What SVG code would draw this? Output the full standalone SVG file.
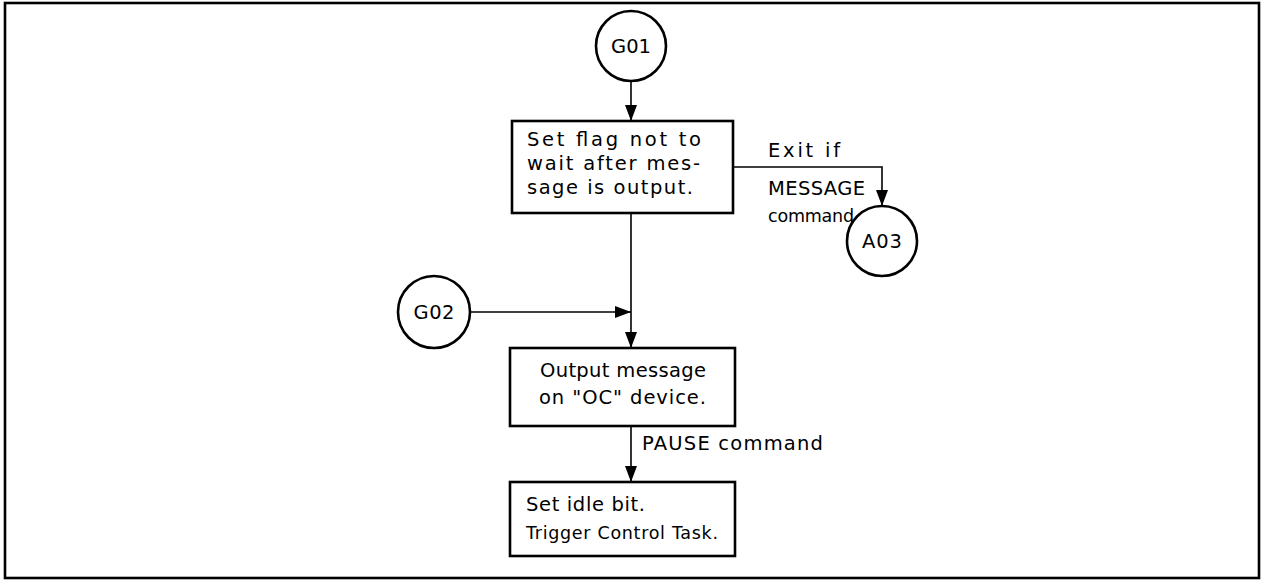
<svg xmlns="http://www.w3.org/2000/svg" width="1261" height="580" viewBox="0 0 1261 580">
<defs>
<marker id="ah" markerWidth="16" markerHeight="12" refX="16" refY="6" viewBox="0 0 16 12" markerUnits="userSpaceOnUse" orient="auto">
<path d="M0,0 L16,6 L0,12 Z" fill="#000"/>
</marker>
<style>
.box{fill:#fff;stroke:#000;stroke-width:2.6}
.circ{fill:#fff;stroke:#000;stroke-width:2.6}
.con{fill:none;stroke:#000;stroke-width:1.6}
text{font-family:"DejaVu Sans","Liberation Sans",sans-serif;font-size:19.5px;fill:#000}
.s{font-size:17.5px}
.c{text-anchor:middle}
</style>
</defs>
<rect x="0" y="0" width="1261" height="580" fill="#fff"/>
<rect x="5" y="3" width="1254" height="575" fill="none" stroke="#000" stroke-width="2.6"/>
<g id="connectors">
<line class="con" x1="631" y1="81" x2="631" y2="121" marker-end="url(#ah)"/>
<polyline class="con" points="733,167 882,167 882,206" marker-end="url(#ah)"/>
<line class="con" x1="631" y1="213" x2="631" y2="348" marker-end="url(#ah)"/>
<line class="con" x1="470" y1="312" x2="631" y2="312" marker-end="url(#ah)"/>
<line class="con" x1="631" y1="426" x2="631" y2="482" marker-end="url(#ah)"/>
<text x="768" y="157" textLength="72" lengthAdjust="spacing">Exit if</text>
<text x="768" y="195" textLength="97" lengthAdjust="spacing">MESSAGE</text>
<text class="s" x="768" y="222" textLength="86" lengthAdjust="spacing">command</text>
<text x="642" y="450" textLength="181" lengthAdjust="spacing">PAUSE command</text>
</g>
<g id="G01">
<circle class="circ" cx="631" cy="46" r="35"/>
<text class="c" x="631" y="53" textLength="40" lengthAdjust="spacing">G01</text>
</g>
<g id="box1">
<rect class="box" x="512" y="121" width="221" height="92"/>
<text x="527" y="146" textLength="174" lengthAdjust="spacing">Set flag not to</text>
<text x="527" y="170" textLength="173" lengthAdjust="spacing">wait after mes-</text>
<text x="527" y="194" textLength="166" lengthAdjust="spacing">sage is output.</text>
</g>
<g id="A03">
<circle class="circ" cx="882" cy="241" r="35"/>
<text class="c" x="882" y="248" textLength="40" lengthAdjust="spacing">A03</text>
</g>
<g id="G02">
<circle class="circ" cx="434" cy="312" r="36"/>
<text class="c" x="434" y="319" textLength="41" lengthAdjust="spacing">G02</text>
</g>
<g id="box2">
<rect class="box" x="510" y="348" width="225" height="78"/>
<text x="540" y="377" textLength="166" lengthAdjust="spacing">Output message</text>
<text x="539" y="404" textLength="167" lengthAdjust="spacing">on "OC" device.</text>
</g>
<g id="box3">
<rect class="box" x="510" y="482" width="225" height="74"/>
<text x="526" y="511" textLength="119" lengthAdjust="spacing">Set idle bit.</text>
<text class="s" x="526" y="539" textLength="192" lengthAdjust="spacing">Trigger Control Task.</text>
</g>
</svg>
